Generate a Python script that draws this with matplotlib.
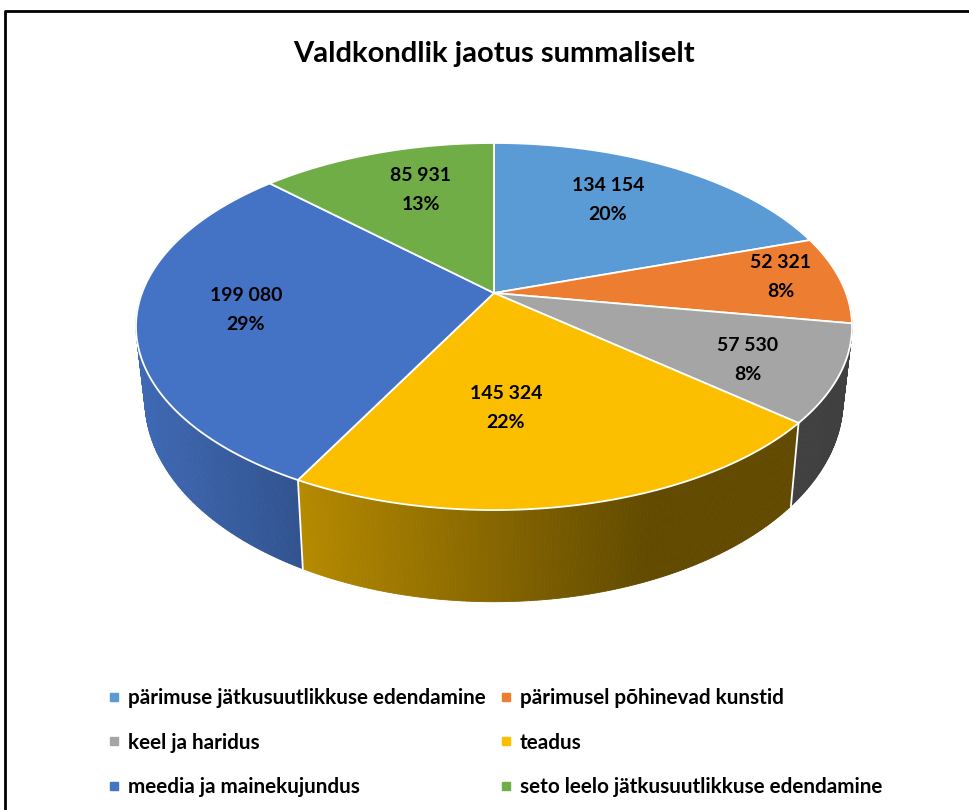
#!/usr/bin/env python3
# 3D pie "Valdkondlik jaotus summaliselt", drawn on an axes in pixel units
import numpy as np
import matplotlib
matplotlib.use('Agg')
import matplotlib.pyplot as plt
from matplotlib.colors import to_rgb
from matplotlib.lines import Line2D
from matplotlib.patches import Polygon

plt.rcParams['font.family'] = ['Lato', 'DejaVu Sans']

# Data
TITLE = "Valdkondlik jaotus summaliselt"
categories = [
    "pärimuse jätkusuutlikkuse edendamine",
    "pärimusel põhinevad kunstid",
    "keel ja haridus",
    "teadus",
    "meedia ja mainekujundus",
    "seto leelo jätkusuutlikkuse edendamine",
]
values = [134154, 52321, 57530, 145324, 199080, 85931]
value_labels = ["134 154", "52 321", "57 530", "145 324", "199 080", "85 931"]
percents = [20, 8, 8, 22, 29, 13]
colors = ['#5b9bd5', '#ed7d31', '#a5a5a5', '#fbbf00', '#4472c4', '#70ad47']

# Layout (pixels)
label_pos = [(608, 200), (781, 277), (748, 360), (506, 408), (246, 310), (421, 190)]
CX, CY = 494, 293      # apex of the top face
RX, RY = 352, 177.4    # projected radii
PERSP = 0.1826         # perspective strength
FLOOR_SX, FLOOR_SY, FLOOR_DY = 0.975, 1.1, 70   # bottom face relative to top

# Side wall shade as a function of x pixel
SHADE_X = [140, 303, 530, 650, 860]
SHADE_F = [0.92, 0.72, 0.50, 0.39, 0.39]


def project_top(theta):
    # angle on the unit circle -> pixel on the top face
    x, y = np.cos(theta), np.sin(theta)
    w = 1 + PERSP * y
    return CX + RX * x / w, CY - RY * y / w


def project_floor(theta):
    x, y = project_top(theta)
    return CX + FLOOR_SX * (x - CX), CY + FLOOR_DY + FLOOR_SY * (y - CY)


fig = plt.figure(figsize=(9.7, 8.1), dpi=100)
ax = fig.add_axes([0, 0, 1, 1])

# the pie gives the slice angles, the tilted shapes are built from them
wedges, _ = ax.pie(values, startangle=90, counterclock=False, colors=colors)
angles = [(np.radians(w.theta1), np.radians(w.theta2)) for w in wedges]
for w in wedges:
    w.remove()

ax.set_aspect('auto')
ax.set_xlim(0, 970)
ax.set_ylim(810, 0)
ax.axis('off')

# --- side walls ---
for (t1, t2), col in zip(angles, colors):
    base = np.array(to_rgb(col))
    steps = np.linspace(t1, t2, max(2, int((t2 - t1) * 120)))
    for a, b in zip(steps[:-1], steps[1:]):
        if np.sin((a + b) / 2) > 0.05:
            continue
        xa, ya = project_top(a)
        xb, yb = project_top(b)
        xc, yc = project_floor(b)
        xd, yd = project_floor(a)
        f = np.interp((xa + xb) / 2, SHADE_X, SHADE_F)
        ax.add_patch(Polygon([(xa, ya), (xb, yb), (xc, yc), (xd, yd)],
                             closed=True, facecolor=base * f, edgecolor=base * f,
                             linewidth=0.6, zorder=2))

# white seams between walls
for (t1, t2) in angles:
    if np.sin(t1) < -0.2:
        xa, ya = project_top(t1)
        xb, yb = project_floor(t1)
        ax.plot([xa, xb], [ya, yb], color='white', lw=1.3, zorder=3)

# --- top face ---
for (t1, t2), col in zip(angles, colors):
    arc = np.linspace(t1, t2, 200)
    xs, ys = project_top(arc)
    pts = np.column_stack([np.r_[CX, xs], np.r_[CY, ys]])
    ax.add_patch(Polygon(pts, closed=True, facecolor=col, edgecolor='white',
                         linewidth=1.3, joinstyle='round', zorder=4))

# --- data labels ---
for (x, y), val, pct in zip(label_pos, value_labels, percents):
    ax.text(x, y, f"{val}\n{pct}%", ha='center', va='center', fontsize=14,
            fontweight='bold', color='black', linespacing=1.8, zorder=5)

ax.text(494, 54, TITLE, ha='center', va='center', fontsize=21,
        fontweight='bold', color='black')

# --- legend (matplotlib fills by column, the chart reads by row) ---
handles = [Line2D([], [], linestyle='none', marker='s', markersize=5.5,
                  markerfacecolor=c, markeredgecolor=c) for c in colors]
order = [0, 2, 4, 1, 3, 5]
ax.legend([handles[i] for i in order], [categories[i] for i in order],
          ncol=2, frameon=False, loc='upper left',
          bbox_to_anchor=(107 / 970, 1 - 688 / 810), bbox_transform=fig.transFigure,
          prop={'size': 14.9, 'weight': 'bold'}, labelspacing=1.19,
          handlelength=0.7, handletextpad=0.3, columnspacing=0.65,
          borderpad=0, borderaxespad=0)

# outer frame, cut off on the right and at the bottom
ax.plot([5, 5, 970], [810, 11, 11], color='black', lw=2, zorder=6, clip_on=False)

fig.savefig('out.png', dpi=100)
